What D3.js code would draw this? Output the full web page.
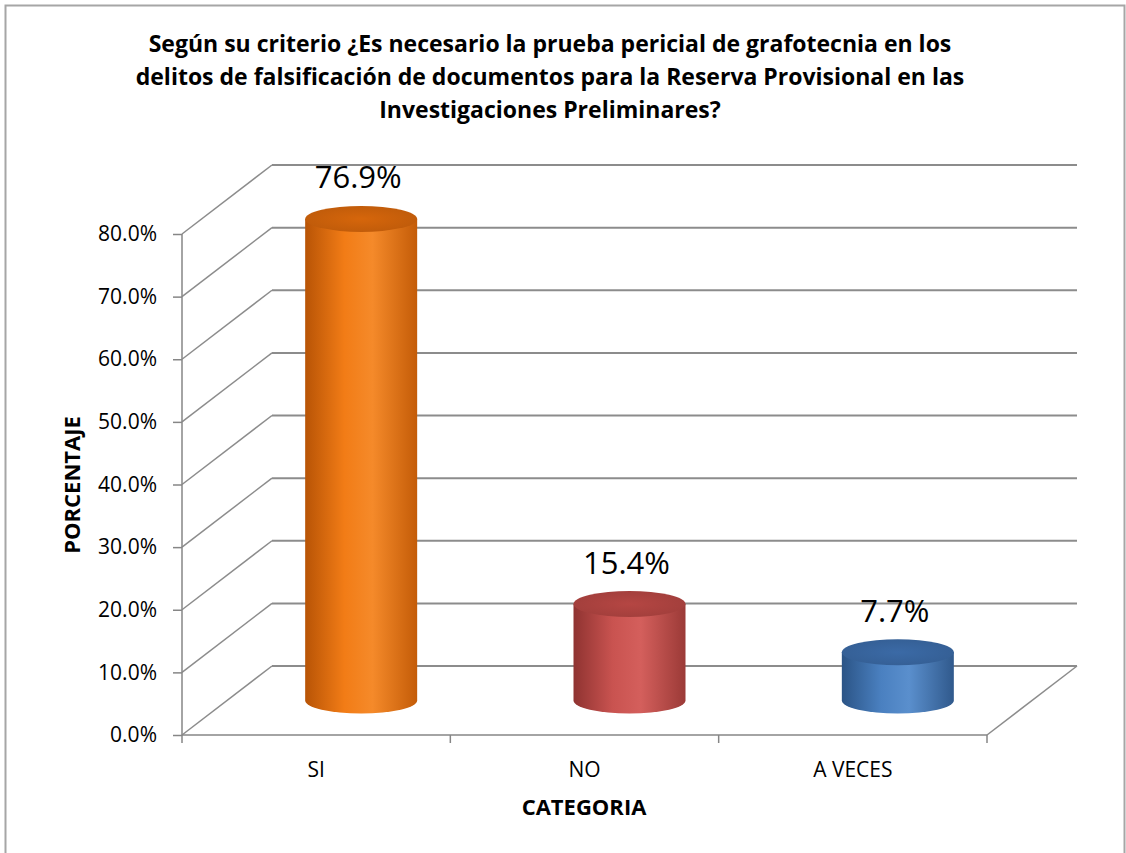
<!DOCTYPE html>
<meta charset="utf-8">
<style>
body { margin: 0; background: #fff; }
text { font-family: "Open Sans", sans-serif; fill: #000; }
.grid { stroke: #8c8c8c; stroke-width: 2px; fill: none; }
.wall { stroke: #8c8c8c; stroke-width: 1.5px; fill: none; }
.axis path, .axis line { stroke: #868686; stroke-width: 1.5px; }
</style>
<svg width="1126" height="853"></svg>
<script src="https://d3js.org/d3.v7.min.js"></script>
<script>

var categorias = ["SI", "NO", "A VECES"];
var porcentajes = [0.769, 0.154, 0.077];
var etiquetas = ["76.9%", "15.4%", "7.7%"];
var ticks = [0, 0.1, 0.2, 0.3, 0.4, 0.5, 0.6, 0.7, 0.8];
var colores = [
  {lado: ["#b85406", "#f27c16", "#f58a2a", "#c45c08"], tapa: "#d6660b"},
  {lado: ["#8f3331", "#c95350", "#d45f5c", "#9b3a37"], tapa: "#b54643"},
  {lado: ["#2b5486", "#4a80c0", "#5a8fcd", "#30598c"], tapa: "#3b6aa6"}
];
var titulo = [
  "Según su criterio ¿Es necesario la prueba pericial de grafotecnia en los",
  "delitos de falsificación de documentos para la Reserva Provisional en las",
  "Investigaciones Preliminares?"
];

var svg = d3.select("svg");

// marco
svg.append("rect")
    .attr("x", 5.5).attr("y", 5.5)
    .attr("width", 1119).attr("height", 870)
    .attr("fill", "none")
    .attr("stroke", "#a6a6a6")
    .attr("stroke-width", 2);

var depth = {dx: 90, dy: -69};

var x = d3.scaleBand().domain(categorias).range([182, 987]),
    y = d3.scaleLinear().domain([0, 0.8]).range([735, 234]);

var g = svg.append("g");

// pared del fondo
g.selectAll(".grid")
  .data(ticks)
  .enter().append("line")
    .attr("class", "grid")
    .attr("x1", x.range()[0] + depth.dx)
    .attr("x2", x.range()[1] + depth.dx)
    .attr("y1", function(d) { return y(d) + depth.dy; })
    .attr("y2", function(d) { return y(d) + depth.dy; });

// pared lateral
g.selectAll(".wall")
  .data(ticks)
  .enter().append("line")
    .attr("class", "wall")
    .attr("x1", x.range()[0])
    .attr("x2", x.range()[0] + depth.dx)
    .attr("y1", function(d) { return y(d); })
    .attr("y2", function(d) { return y(d) + depth.dy; });

// borde derecho del piso
g.append("line")
    .attr("class", "wall")
    .attr("x1", x.range()[1]).attr("y1", y(0))
    .attr("x2", x.range()[1] + depth.dx).attr("y2", y(0) + depth.dy);

// ejes
g.append("g")
    .attr("class", "axis")
    .attr("transform", "translate(" + x.range()[0] + ",0)")
    .call(d3.axisLeft(y).tickValues(ticks).tickSize(9).tickPadding(16)
      .tickFormat(d3.format(".1%")))
    .call(function(a) {
      a.select(".domain").attr("d", "M-0," + y(0.8) + "V" + y(0));
      a.selectAll("text").style("font-size", "21px").attr("fill", "#000").style("font-family", "Open Sans");
    });

var xAxis = g.append("g")
    .attr("class", "axis")
    .attr("transform", "translate(0," + y(0) + ")");
xAxis.append("path")
    .attr("d", "M" + x.range()[0] + ",0H" + x.range()[1])
    .attr("stroke", "#868686").attr("stroke-width", 1.5);
xAxis.selectAll(".tk")
  .data(categorias.concat(["fin"]))
  .enter().append("line")
    .attr("class", "tk")
    .attr("x1", function(d, i) { return x.range()[0] + i * x.bandwidth(); })
    .attr("x2", function(d, i) { return x.range()[0] + i * x.bandwidth(); })
    .attr("y1", 0).attr("y2", 8);
xAxis.selectAll(".lbl")
  .data(categorias)
  .enter().append("text")
    .attr("class", "lbl")
    .attr("x", function(d) { return x(d) + x.bandwidth() / 2; })
    .attr("y", 42)
    .attr("text-anchor", "middle")
    .style("font-size", "21px")
    .text(function(d) { return d; });

// cilindros
var defs = svg.append("defs");
var rx = 56, ry = 13;
var base = y(0) + depth.dy / 2;

var datos = categorias.map(function(c, i) {
  return {cat: c, valor: porcentajes[i], etiqueta: etiquetas[i], color: colores[i], i: i};
});

datos.forEach(function(d) {
  var gr = defs.append("linearGradient")
      .attr("id", "lado" + d.i)
      .attr("x1", "0").attr("x2", "1").attr("y1", "0").attr("y2", "0");
  gr.append("stop").attr("offset", "0").attr("stop-color", d.color.lado[0]);
  gr.append("stop").attr("offset", "0.35").attr("stop-color", d.color.lado[1]);
  gr.append("stop").attr("offset", "0.6").attr("stop-color", d.color.lado[2]);
  gr.append("stop").attr("offset", "1").attr("stop-color", d.color.lado[3]);
  var gt = defs.append("radialGradient")
      .attr("id", "tapa" + d.i)
      .attr("cx", "0.5").attr("cy", "0.5").attr("r", "0.6");
  gt.append("stop").attr("offset", "0").attr("stop-color", d.color.tapa);
  gt.append("stop").attr("offset", "1").attr("stop-color", d3.color(d.color.tapa).darker(0.35));
});

var cil = g.selectAll(".cil")
  .data(datos)
  .enter().append("g")
    .attr("class", "cil");

cil.append("path")
    .attr("d", function(d) {
      var cx = x(d.cat) + x.bandwidth() / 2 + depth.dx / 2,
          top = y(d.valor) + depth.dy / 2;
      return "M" + (cx - rx) + "," + top +
             "L" + (cx - rx) + "," + base +
             "A" + rx + "," + ry + " 0 0 0 " + (cx + rx) + "," + base +
             "L" + (cx + rx) + "," + top + "Z";
    })
    .attr("fill", function(d) { return "url(#lado" + d.i + ")"; });

cil.append("ellipse")
    .attr("cx", function(d) { return x(d.cat) + x.bandwidth() / 2 + depth.dx / 2; })
    .attr("cy", function(d) { return y(d.valor) + depth.dy / 2; })
    .attr("rx", rx).attr("ry", ry)
    .attr("fill", function(d) { return "url(#tapa" + d.i + ")"; });

cil.append("text")
    .attr("x", function(d) { return x(d.cat) + x.bandwidth() / 2 + depth.dx / 2 - 3; })
    .attr("y", function(d) { return y(d.valor) + depth.dy + 4; })
    .attr("text-anchor", "middle")
    .style("font-size", "31px")
    .text(function(d) { return d.etiqueta; });

// titulos
svg.selectAll(".titulo")
  .data(titulo)
  .enter().append("text")
    .attr("class", "titulo")
    .attr("x", 550)
    .attr("y", function(d, i) { return 52 + i * 33; })
    .attr("text-anchor", "middle")
    .style("font-size", "23px")
    .style("font-weight", "bold")
    .text(function(d) { return d; });

svg.append("text")
    .attr("transform", "translate(80,485) rotate(-90)")
    .attr("text-anchor", "middle")
    .style("font-size", "22px")
    .style("font-weight", "bold")
    .text("PORCENTAJE");

svg.append("text")
    .attr("x", 584).attr("y", 815)
    .attr("text-anchor", "middle")
    .style("font-size", "22px")
    .style("font-weight", "bold")
    .text("CATEGORIA");

</script>
